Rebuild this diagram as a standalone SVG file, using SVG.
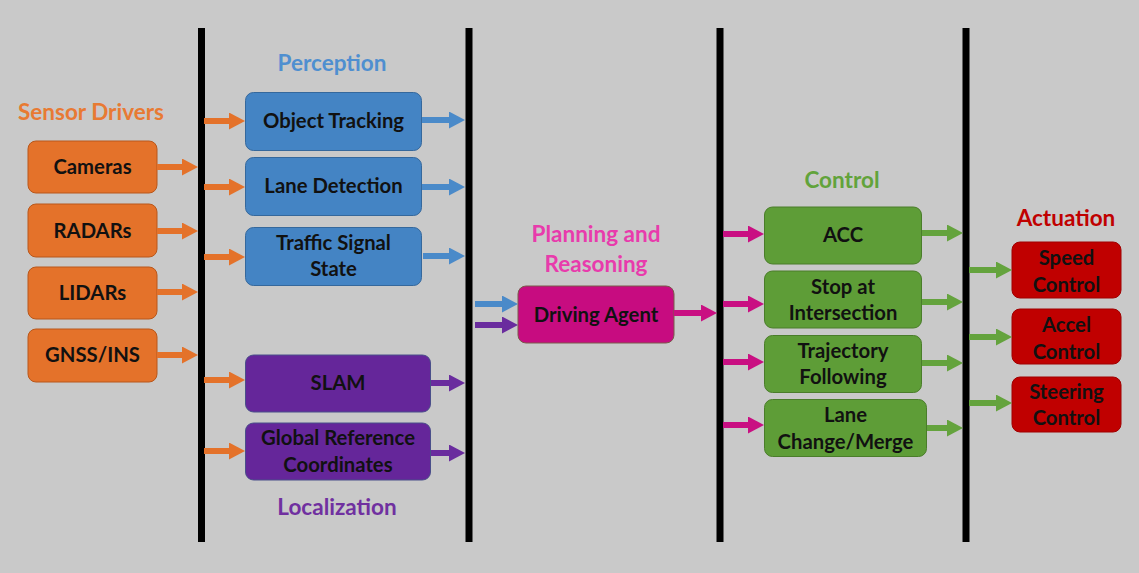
<svg xmlns="http://www.w3.org/2000/svg" width="1139" height="573" viewBox="0 0 1139 573">
<defs>
<style>
.t{font-family:Lato,"Open Sans","Liberation Sans",sans-serif;font-weight:700;font-size:20.3px;fill:#111;text-anchor:middle}
.h{font-family:Lato,"Open Sans","Liberation Sans",sans-serif;font-weight:700;font-size:22.5px;text-anchor:middle}
.bar{fill:#000}
.c line{stroke-width:6}
</style>
<marker id="mo" markerUnits="userSpaceOnUse" markerWidth="16" markerHeight="17" refX="8" refY="8.5" orient="auto"><path d="M0,0 L16,8.5 L0,17 z" fill="#E4722A"/></marker>
<marker id="mb" markerUnits="userSpaceOnUse" markerWidth="16" markerHeight="17" refX="8" refY="8.5" orient="auto"><path d="M0,0 L16,8.5 L0,17 z" fill="#4A8AC9"/></marker>
<marker id="mp" markerUnits="userSpaceOnUse" markerWidth="16" markerHeight="17" refX="8" refY="8.5" orient="auto"><path d="M0,0 L16,8.5 L0,17 z" fill="#6A2C9E"/></marker>
<marker id="mm" markerUnits="userSpaceOnUse" markerWidth="16" markerHeight="17" refX="8" refY="8.5" orient="auto"><path d="M0,0 L16,8.5 L0,17 z" fill="#C90F82"/></marker>
<marker id="mg" markerUnits="userSpaceOnUse" markerWidth="16" markerHeight="17" refX="8" refY="8.5" orient="auto"><path d="M0,0 L16,8.5 L0,17 z" fill="#64A33D"/></marker>
</defs>
<rect width="1139" height="573" fill="#C9C9C9"/>
<g id="bars">
<rect class="bar" x="198" y="28" width="7" height="514"/>
<rect class="bar" x="465.5" y="28" width="7" height="514"/>
<rect class="bar" x="716.5" y="28" width="7" height="514"/>
<rect class="bar" x="962.5" y="28" width="7" height="514"/>
</g>
<g id="headers">
<text class="h" x="91" y="120" fill="#E87A33">Sensor Drivers</text>
<text class="h" x="332" y="71" fill="#4F8FD0">Perception</text>
<text class="h" x="337" y="515" fill="#7030A0">Localization</text>
<text class="h" x="596" y="242" fill="#E83BAC">Planning and</text>
<text class="h" x="596" y="272" fill="#E83BAC">Reasoning</text>
<text class="h" x="842" y="188" fill="#62A33B">Control</text>
<text class="h" x="1066" y="226" fill="#C00000">Actuation</text>
</g>
<g id="sensors">
<g id="cameras"><rect x="28" y="141" width="129" height="52" rx="8" fill="#E4722A" stroke="#B9571A"/><text class="t" x="92.5" y="174">Cameras</text></g>
<g id="radars"><rect x="28" y="204" width="129" height="53" rx="8" fill="#E4722A" stroke="#B9571A"/><text class="t" x="92.5" y="237.5">RADARs</text></g>
<g id="lidars"><rect x="28" y="267" width="129" height="52" rx="8" fill="#E4722A" stroke="#B9571A"/><text class="t" x="92.5" y="300">LIDARs</text></g>
<g id="gnss"><rect x="28" y="329" width="129" height="53" rx="8" fill="#E4722A" stroke="#B9571A"/><text class="t" x="92.5" y="362">GNSS/INS</text></g>
</g>
<g id="perception">
<g id="objtrack"><rect x="245.5" y="92.5" width="176" height="58" rx="8" fill="#4484C4" stroke="#35689C"/><text class="t" x="333.5" y="128">Object Tracking</text></g>
<g id="lanedet"><rect x="245.5" y="157.5" width="176" height="58" rx="8" fill="#4484C4" stroke="#35689C"/><text class="t" x="333.5" y="193">Lane Detection</text></g>
<g id="traffic"><rect x="245.5" y="227.5" width="176" height="58" rx="8" fill="#4484C4" stroke="#35689C"/><text class="t" x="333.5" y="250">Traffic Signal</text><text class="t" x="333.5" y="276">State</text></g>
</g>
<g id="localization">
<g id="slam"><rect x="245.5" y="355" width="185" height="57" rx="8" fill="#65269A" stroke="#4A4F8A"/><text class="t" x="338" y="390">SLAM</text></g>
<g id="globalref"><rect x="245.5" y="423" width="185" height="57" rx="8" fill="#65269A" stroke="#4A4F8A"/><text class="t" x="338" y="445">Global Reference</text><text class="t" x="338" y="472">Coordinates</text></g>
</g>
<g id="planning">
<g id="agent"><rect x="518" y="286" width="156" height="57" rx="8" fill="#C70C80" stroke="#7A5A4A"/><text class="t" x="596" y="321.5">Driving Agent</text></g>
</g>
<g id="control">
<g id="acc"><rect x="764.5" y="207" width="157" height="57" rx="8" fill="#5E9D37" stroke="#4A7D2A"/><text class="t" x="843" y="242">ACC</text></g>
<g id="stop"><rect x="764.5" y="271" width="157" height="57" rx="8" fill="#5E9D37" stroke="#4A7D2A"/><text class="t" x="843" y="294">Stop at</text><text class="t" x="843" y="320">Intersection</text></g>
<g id="traj"><rect x="764.5" y="335.5" width="157" height="57" rx="8" fill="#5E9D37" stroke="#4A7D2A"/><text class="t" x="843" y="358">Trajectory</text><text class="t" x="843" y="384">Following</text></g>
<g id="lanechange"><rect x="764.5" y="399.5" width="162" height="57" rx="8" fill="#5E9D37" stroke="#4A7D2A"/><text class="t" x="845.5" y="422">Lane</text><text class="t" x="845.5" y="449">Change/Merge</text></g>
</g>
<g id="actuation">
<g id="speed"><rect x="1012" y="242" width="109" height="56" rx="8" fill="#C00000" stroke="#A00000"/><text class="t" x="1066.5" y="265">Speed</text><text class="t" x="1066.5" y="291.5">Control</text></g>
<g id="accel"><rect x="1012" y="309" width="109" height="55" rx="8" fill="#C00000" stroke="#A00000"/><text class="t" x="1066.5" y="332">Accel</text><text class="t" x="1066.5" y="358.5">Control</text></g>
<g id="steering"><rect x="1012" y="377" width="109" height="55" rx="8" fill="#C00000" stroke="#A00000"/><text class="t" x="1066.5" y="399">Steering</text><text class="t" x="1066.5" y="425">Control</text></g>
</g>
<g id="connectors" class="c">
<g stroke="#E4722A" marker-end="url(#mo)">
<line x1="157" y1="167" x2="190" y2="167"/>
<line x1="157" y1="231" x2="190" y2="231"/>
<line x1="157" y1="292" x2="190" y2="292"/>
<line x1="157" y1="355" x2="190" y2="355"/>
<line x1="204" y1="121" x2="237" y2="121"/>
<line x1="204" y1="187" x2="237" y2="187"/>
<line x1="204" y1="257" x2="237" y2="257"/>
<line x1="204" y1="380" x2="237" y2="380"/>
<line x1="204" y1="451" x2="237" y2="451"/>
</g>
<g stroke="#4A8AC9" marker-end="url(#mb)">
<line x1="422" y1="120" x2="457" y2="120"/>
<line x1="422" y1="187" x2="457" y2="187"/>
<line x1="423" y1="256" x2="457" y2="256"/>
<line x1="475" y1="304" x2="510" y2="304"/>
</g>
<g stroke="#6A2C9E" marker-end="url(#mp)">
<line x1="431" y1="383" x2="457" y2="383"/>
<line x1="431" y1="453" x2="457" y2="453"/>
<line x1="475" y1="325" x2="510" y2="325"/>
</g>
<g stroke="#C90F82" marker-end="url(#mm)">
<line x1="674" y1="313" x2="709" y2="313"/>
<line x1="723" y1="234" x2="756" y2="234"/>
<line x1="723" y1="304" x2="756" y2="304"/>
<line x1="723" y1="362" x2="756" y2="362"/>
<line x1="723" y1="425" x2="756" y2="425"/>
</g>
<g stroke="#64A33D" marker-end="url(#mg)">
<line x1="922" y1="233" x2="955" y2="233"/>
<line x1="922" y1="302" x2="955" y2="302"/>
<line x1="922" y1="363" x2="955" y2="363"/>
<line x1="927" y1="428" x2="955" y2="428"/>
<line x1="969" y1="270" x2="1004" y2="270"/>
<line x1="969" y1="337" x2="1004" y2="337"/>
<line x1="969" y1="403" x2="1004" y2="403"/>
</g>
</g>
</svg>
